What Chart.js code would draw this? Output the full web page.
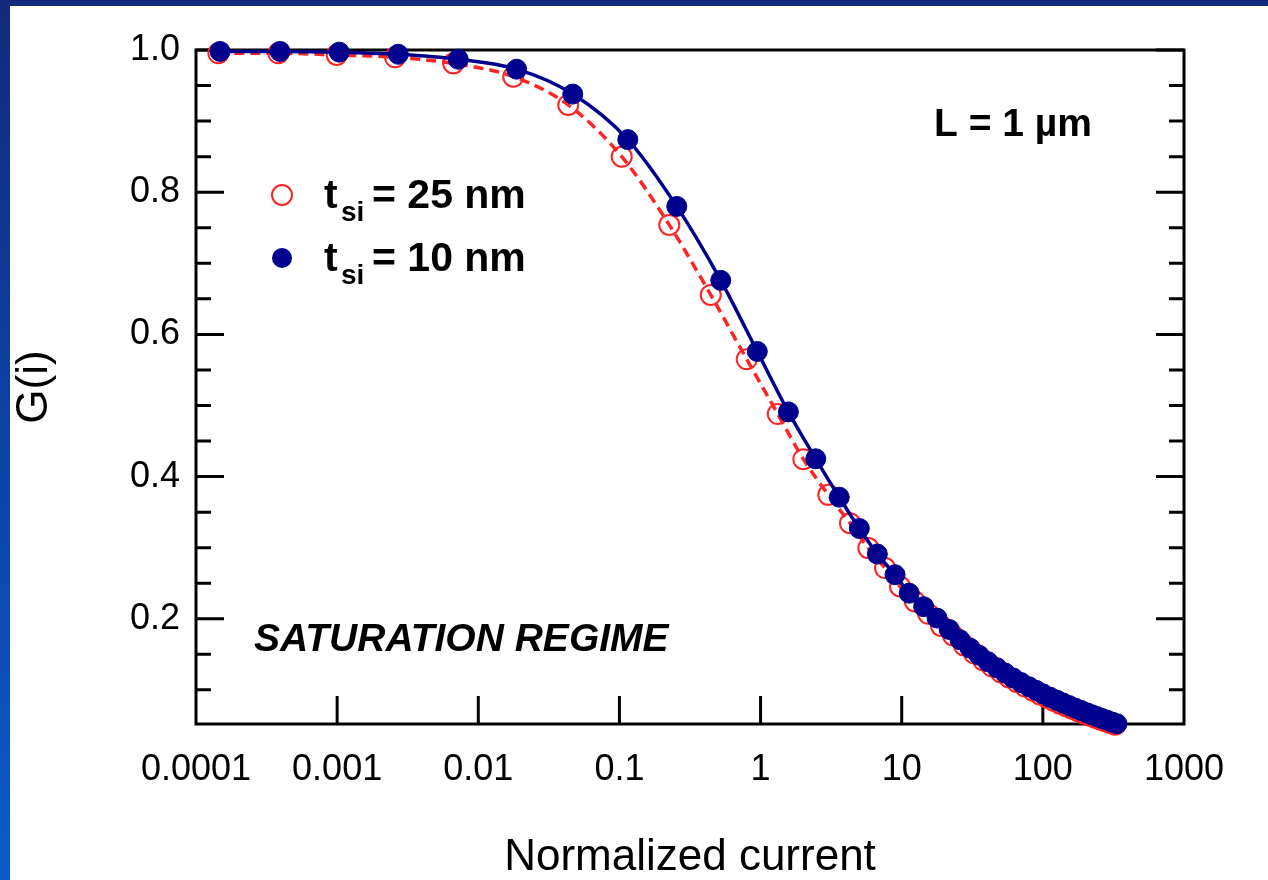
<!DOCTYPE html>
<html>
<head>
<meta charset="utf-8">
<script src="https://cdn.jsdelivr.net/npm/chart.js@4.4.1/dist/chart.umd.min.js"></script>
<style>
  html, body { margin: 0; padding: 0; }
  body {
    width: 1268px; height: 880px; overflow: hidden; position: relative;
    background: linear-gradient(to bottom, #122a7c 0%, #0d45a8 55%, #0a5cc8 100%);
  }
  #sheet { position: absolute; left: 10px; top: 6px; right: 0; bottom: 0; background: #fff; }
  #wrap { position: absolute; left: 0; top: 0; width: 1268px; height: 880px; }
</style>
</head>
<body>
<div id="sheet"></div>
<div id="wrap"><canvas id="chart"></canvas></div>
<script>
// t_si = 10 nm (filled navy dots, solid line)
const current10nm = [1.48e-4, 3.94e-4, 1.035e-3, 2.71e-3, 7.21e-3, 0.0187, 0.0467, 0.1146, 0.2548, 0.522,
  0.948, 1.574, 2.46, 3.61, 5.01, 6.72, 8.97, 11.3, 14.3, 17.8, 21.7, 25.9, 30.5, 35.3, 40.9, 47.3,
  54.0, 61.5, 70.0, 79.8, 89.5, 100.3, 112.4, 126.0, 139.0, 153.2, 169.0, 186.4, 205.5, 222.9,
  242.0, 262.5, 285.0, 309.0, 335.0]
const g10nm = [0.998, 0.998, 0.997, 0.994, 0.987, 0.973, 0.938, 0.874, 0.780, 0.676,
  0.576, 0.491, 0.425, 0.371, 0.327, 0.291, 0.262, 0.236, 0.217, 0.201, 0.185, 0.1705, 0.1587, 0.1488, 0.1395, 0.1311,
  0.1237, 0.1168, 0.1104, 0.1044, 0.0994, 0.0944, 0.0898, 0.0853, 0.0816, 0.0780, 0.0745, 0.0711, 0.0677, 0.0650,
  0.0624, 0.0598, 0.0573, 0.0548, 0.0524]

// t_si = 25 nm (open red circles, dashed line)
const current25nm = [1.44e-4, 3.83e-4, 9.93e-4, 2.57e-3, 6.65e-3, 0.0177, 0.0434, 0.1038, 0.2255, 0.4436,
  0.798, 1.324, 2.01, 3.02, 4.30, 5.80, 7.62, 9.73, 12.4, 15.4, 19.0, 23.1, 27.6, 32.5, 37.7, 43.6,
  50.5, 57.6, 65.6, 74.7, 85.2, 95.5, 107.0, 120.0, 132.3, 145.9, 160.9, 177.5, 195.7, 215.8,
  234.2, 254.1, 275.6, 299.1, 324.6]
const g25nm = [0.9954, 0.9954, 0.993, 0.9897, 0.981, 0.9625, 0.9227, 0.850, 0.754, 0.6555,
  0.565, 0.488, 0.4245, 0.3743, 0.3345, 0.2994, 0.2713, 0.2454, 0.2243, 0.207, 0.190, 0.1765, 0.1626, 0.1514, 0.1418, 0.1328,
  0.1245, 0.1175, 0.1109, 0.1047, 0.0988, 0.0937, 0.0889, 0.0844, 0.0806, 0.0770, 0.0735, 0.0700, 0.0666, 0.0636,
  0.0610, 0.0584, 0.0559, 0.0534, 0.0509]

// axes
const xTickValues = [0.0001, 0.001, 0.01, 0.1, 1, 10, 100, 1000]
const xTickLabels = ["0.0001", "0.001", "0.01", "0.1", "1", "10", "100", "1000"]
const yTickValues = [0.2, 0.4, 0.6, 0.8, 1.0]
const yTickLabels = ["0.2", "0.4", "0.6", "0.8", "1.0"]
const yMinorTicks = [0.1, 0.15, 0.25, 0.3, 0.35, 0.45, 0.5, 0.55, 0.65, 0.7, 0.75, 0.85, 0.9, 0.95]

const navy = "#00008f"
const red = "#ff2424"
const fontFamily = "'Liberation Sans', Arial, sans-serif"

const toPoints = (xs, ys) => xs.map((x, i) => ({ x: x, y: ys[i] }))

// inward ticks + box frame, drawn under the data
const frameTicks = {
  id: "frameTicks",
  beforeDatasetsDraw(chart) {
    const { ctx, chartArea: a, scales: { x, y } } = chart
    const major = 28, minor = 15
    ctx.save()
    ctx.strokeStyle = "#000"
    ctx.lineWidth = 3
    ctx.beginPath()
    yTickValues.forEach(v => {
      const p = y.getPixelForValue(v)
      ctx.moveTo(a.left, p); ctx.lineTo(a.left + major, p)
      ctx.moveTo(a.right, p); ctx.lineTo(a.right - major, p)
    })
    yMinorTicks.forEach(v => {
      const p = y.getPixelForValue(v)
      ctx.moveTo(a.left, p); ctx.lineTo(a.left + minor, p)
      ctx.moveTo(a.right, p); ctx.lineTo(a.right - minor, p)
    })
    xTickValues.slice(1, -1).forEach(v => {
      const p = x.getPixelForValue(v)
      ctx.moveTo(p, a.bottom); ctx.lineTo(p, a.bottom - major)
    })
    ctx.stroke()
    ctx.strokeRect(a.left, a.top, a.right - a.left, a.bottom - a.top)
    ctx.restore()
  }
}

// legend and in-plot labels
const notes = {
  id: "notes",
  afterDraw(chart) {
    const { ctx, chartArea: a } = chart
    ctx.save()
    ctx.fillStyle = "#000"
    ctx.textBaseline = "alphabetic"
    const rows = [
      { dy: 145, text: "= 25 nm", filled: false },
      { dy: 208, text: "= 10 nm", filled: true }
    ]
    rows.forEach(r => {
      const cy = a.top + r.dy
      const cx = a.left + 86
      ctx.beginPath()
      ctx.arc(cx, cy, 10, 0, Math.PI * 2)
      if (r.filled) { ctx.fillStyle = navy; ctx.fill() }
      else { ctx.strokeStyle = red; ctx.lineWidth = 2; ctx.stroke() }
      ctx.fillStyle = "#000"
      const base = cy + 13
      ctx.font = "bold 41px " + fontFamily
      ctx.fillText("t", a.left + 128, base)
      ctx.font = "bold 28px " + fontFamily
      ctx.fillText("si", a.left + 145, base + 13)
      ctx.font = "bold 41px " + fontFamily
      ctx.fillText(r.text, a.left + 176, base)
    })
    ctx.font = "bold 39px " + fontFamily
    ctx.fillText("L = 1 µm", a.left + 738, a.top + 86)
    ctx.font = "italic bold 39px " + fontFamily
    ctx.fillText("SATURATION REGIME", a.left + 58, a.top + 601)
    ctx.restore()
  }
}

new Chart(document.getElementById("chart"), {
  type: "scatter",
  data: {
    datasets: [
      {
        label: "tsi = 10 nm",
        data: toPoints(current10nm, g10nm),
        showLine: true,
        borderColor: navy,
        borderWidth: 3.5,
        cubicInterpolationMode: "monotone",
        pointRadius: 10,
        pointBackgroundColor: navy,
        pointBorderColor: navy,
        pointBorderWidth: 1,
        clip: false
      },
      {
        label: "tsi = 25 nm",
        data: toPoints(current25nm, g25nm),
        showLine: true,
        borderColor: red,
        borderWidth: 3.5,
        borderDash: [10, 6],
        cubicInterpolationMode: "monotone",
        pointRadius: 10,
        pointBackgroundColor: "rgba(255,255,255,0)",
        pointBorderColor: red,
        pointBorderWidth: 2,
        clip: false
      }
    ]
  },
  options: {
    responsive: true,
    maintainAspectRatio: false,
    animation: false,
    layout: { padding: { top: 50, right: 84, left: 0, bottom: 0 } },
    plugins: { legend: { display: false }, tooltip: { enabled: false } },
    scales: {
      x: {
        type: "logarithmic",
        min: 0.0001,
        max: 1000,
        afterBuildTicks: s => { s.ticks = xTickValues.map(v => ({ value: v })) },
        afterFit: s => { s.height = 156 },
        ticks: {
          autoSkip: false,
          maxRotation: 0,
          padding: 24,
          color: "#000",
          font: { family: fontFamily, size: 36 },
          callback: (v) => xTickLabels[xTickValues.indexOf(v)]
        },
        grid: { display: false, drawTicks: false },
        border: { display: false },
        title: {
          display: true,
          text: "Normalized current",
          color: "#000",
          font: { family: fontFamily, size: 44 },
          padding: { top: 0, bottom: -4 }
        }
      },
      y: {
        min: 0.052,
        max: 1.0,
        afterBuildTicks: s => { s.ticks = yTickValues.map(v => ({ value: v })) },
        afterFit: s => { s.width = 196 },
        ticks: {
          padding: 16,
          color: "#000",
          font: { family: fontFamily, size: 36 },
          callback: (v) => yTickLabels[yTickValues.indexOf(v)]
        },
        grid: { display: false, drawTicks: false },
        border: { display: false },
        title: {
          display: true,
          text: "G(i)",
          color: "#000",
          font: { family: fontFamily, size: 44 },
          padding: { top: 8, bottom: 0 }
        }
      }
    }
  },
  plugins: [frameTicks, notes]
})
</script>
</body>
</html>
